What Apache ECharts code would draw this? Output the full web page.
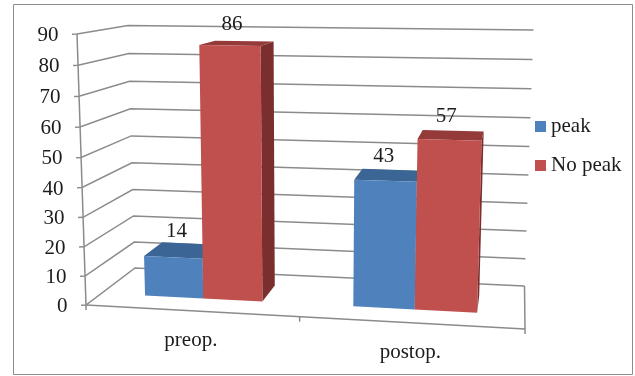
<!DOCTYPE html>
<html>
<head>
<meta charset="utf-8">
<style>html,body{margin:0;padding:0;background:#fff}#c{width:635px;height:376px}</style>
<script src="https://cdn.jsdelivr.net/npm/echarts@6/dist/echarts.min.js"></script>
</head>
<body>
<div id="c"></div>
<script>
const categories = ['preop.', 'postop.'];
const peakValues = [14, 43];
const noPeakValues = [86, 57];
const valueTicks = [0, 10, 20, 30, 40, 50, 60, 70, 80, 90];

const FONT = '"Liberation Serif","Times New Roman",serif';
const TEXT = '#1c1c1c', LINE = '#8b8b8b';
const G = {left: 86, top: 34, width: 439, height: 271};
// Corners of the drawn 3D box: [front-left, back-left, back-right, front-right]
const BOTTOM = [[86,305],[135,268],[524.5,286],[525,329]];
const TOP = [[77,34],[128,25.5],[533.5,30],[534,41]];
const persp = (t, r) => t / (t + (1 - t) * r);
function bil(c, U, d, k) {
  const l = c[0][k] + (c[1][k] - c[0][k]) * d;
  const r = c[3][k] + (c[2][k] - c[3][k]) * d;
  return l + (r - l) * U;
}
function project(u, v, d) {
  const U = persp(u, 1.055), V = persp(v, 1.045);
  const p = k => bil(BOTTOM, U, d, k) + (bil(TOP, U, d, k) - bil(BOTTOM, U, d, k)) * V;
  return [p(0), p(1)];
}
const normU = px => (px - G.left) / G.width;
const normV = py => (G.top + G.height - py) / G.height;
const line = (pts, w) => ({type: 'polyline', silent: true, shape: {points: pts},
  style: {stroke: LINE, lineWidth: w || 1.5, fill: null}});
const label = (x, y, text, align) => ({type: 'text', silent: true,
  style: {x, y, text: String(text), fill: TEXT, font: '21px ' + FONT,
    textAlign: align || 'center', textVerticalAlign: 'middle'}});

function renderValueTick(params, api) {
  const val = api.value(1);
  const v = normV(api.coord([0, val])[1]);
  const f = project(0, v, 0), b = project(0, v, 1), r = project(1, v, 1);
  const kids = [line([[f[0] - 5, f[1] + 0.3], f, b, r]),
    label(f[0] - 18.5, f[1] + 1.5, valueTicks[params.dataIndex], 'right')];
  if (val === 0) {
    const t = project(0, 1, 0), fr = project(1, 0, 0);
    kids.push(line([t, f]), line([f, fr]), line([r, fr]));
  }
  return {type: 'group', children: kids};
}
function renderCategory(params, api) {
  const i = api.value(0);
  const u = normU(api.coord([i, 0])[0]);
  const floor = project(u, 0, 0);
  const half = api.size([1, 0])[0] / G.width / 2;
  const e0 = project(u + half, 0, 0);
  const kids = [label(floor[0] - 0.5, floor[1] + 29.5, categories[i]),
    line([e0, [e0[0], e0[1] + 5]])];
  if (i === 0) { const s = project(0, 0, 0); kids.push(line([s, [s[0], s[1] + 5]])); }
  return {type: 'group', children: kids};
}
function bar(front, top, side, dir) {
  return function (params, api) {
    const i = api.value(0), val = api.value(1);
    const c = normU(api.coord([i, 0])[0]);
    const w = api.size([1, 0])[0] / G.width * 0.285;
    const u0 = dir < 0 ? c - w : c, u1 = dir < 0 ? c : c + w;
    const v = normV(api.coord([i, val])[1]);
    const d0 = 0.32, d1 = 0.73;
    const poly = (pts, fill) => ({type: 'polygon', silent: true, shape: {points: pts}, style: {fill}});
    const mid = project((u0 + u1) / 2, v, (d0 + d1) / 2);
    return {type: 'group', children: [
      poly([project(u1,0,d0), project(u1,0,d1), project(u1,v,d1), project(u1,v,d0)], side),
      poly([project(u0,v,d0), project(u1,v,d0), project(u1,v,d1), project(u0,v,d1)], top),
      poly([project(u0,0,d0), project(u1,0,d0), project(u1,v,d0), project(u0,v,d0)], front),
      label(mid[0] - 5, mid[1] - 19, val)
    ]};
  };
}
const chart = echarts.init(document.getElementById('c'), null, {renderer: 'canvas'});
chart.setOption({
  animation: false,
  backgroundColor: '#fff',
  grid: G,
  xAxis: {type: 'category', data: categories, show: false},
  yAxis: {type: 'value', min: 0, max: 90, interval: 10, show: false},
  legend: {
    data: ['peak', 'No peak'], orient: 'vertical', left: 530, top: 110,
    icon: 'rect', itemWidth: 11, itemHeight: 11, itemGap: 16,
    selectedMode: false,
    textStyle: {fontFamily: FONT, fontSize: 21, color: TEXT, lineHeight: 23}
  },
  graphic: [{type: 'rect', silent: true, z: -1,
    shape: {x: 13.5, y: 4.5, width: 619, height: 370},
    style: {fill: 'none', stroke: '#8c8c8c', lineWidth: 1}}],
  series: [
    {type: 'custom', name: 'axes', z: 1, silent: true, renderItem: renderValueTick,
      data: valueTicks.map(t => [0, t])},
    {type: 'custom', name: 'cats', z: 1, silent: true, renderItem: renderCategory,
      data: categories.map((c, i) => [i])},
    {type: 'custom', name: 'peak', z: 2, silent: true, itemStyle: {color: '#4F81BD'},
      renderItem: bar('#4F81BD', '#3B6595', '#2F5077', -1),
      data: peakValues.map((v, i) => [i, v])},
    {type: 'custom', name: 'No peak', z: 3, silent: true, itemStyle: {color: '#C0504D'},
      renderItem: bar('#C0504D', '#943B39', '#7A2F2E', 1),
      data: noPeakValues.map((v, i) => [i, v])}
  ]
});
</script>
</body>
</html>
